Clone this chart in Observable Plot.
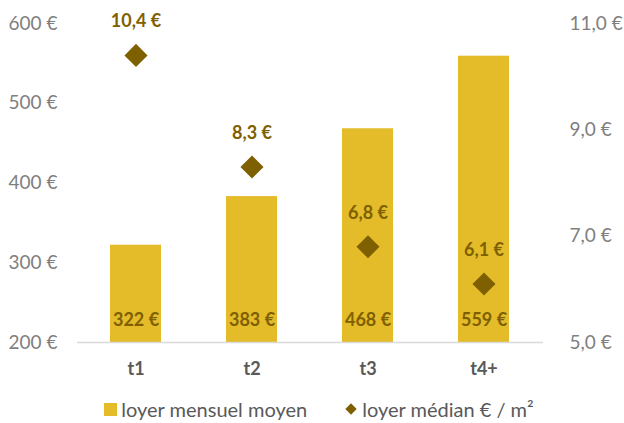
<!DOCTYPE html>
<html><head><meta charset="utf-8">
<script src="https://cdn.jsdelivr.net/npm/d3@7"></script>
<script src="https://cdn.jsdelivr.net/npm/@observablehq/plot@0.6"></script>
<style>
body{margin:0;background:#fff;font-family:Lato,"Open Sans",sans-serif;}
#legend{display:flex;justify-content:center;align-items:center;font-size:20px;color:#595959;height:30px;margin-top:2px;padding-left:14px;}
.item{display:flex;align-items:center;}
.sq{width:13px;height:13px;background:#E4BC2A;margin-right:4px;}
.dm{width:8px;height:8px;background:#7F6000;transform:rotate(45deg);margin-right:7px;margin-left:40px;}
</style></head><body>
<div id="chart"></div>
<div id="legend"><span class="item"><span class="sq"></span>loyer mensuel moyen</span><span class="item"><span class="dm"></span>loyer médian € / m²</span></div>
<script>
const categories = ["t1","t2","t3","t4+"];
const loyerMensuel = [322,383,468,559];
const loyerMedian = [10.4,8.3,6.8,6.1];
const leftTicks = [200,300,400,500,600];
const rightTicks = [5,7,9,11];

const barColor = "#E4BC2A", dkColor = "#7F6000";
const lMin = leftTicks[0], lMax = leftTicks[leftTicks.length-1];
const rMin = rightTicks[0], rMax = rightTicks[rightTicks.length-1];
const toLeft = v => lMin + (v - rMin) * (lMax - lMin) / (rMax - rMin);

const data = categories.map((c,i)=>({cat:c, bar:loyerMensuel[i], med:loyerMedian[i]}));
const fmt1 = v => v.toFixed(1).replace(".", ",") + " €";

const chart = Plot.plot({
  width: 624, height: 392,
  marginLeft: 77, marginRight: 81, marginTop: 23, marginBottom: 50,
  style: {fontFamily: "Lato, 'Open Sans', sans-serif", fontSize: "18px", color: "#7f7f7f", background: "#fff"},
  x: {domain: categories, paddingInner: 0.56, paddingOuter: 0.28, label: null},
  y: {domain: [lMin, lMax], label: null},
  marks: [
    Plot.barY(data, {x: "cat", y1: lMin, y2: "bar", fill: barColor}),
    Plot.ruleY([lMin], {stroke: "#d9d9d9", strokeWidth: 1.5}),
    Plot.axisY(leftTicks, {anchor: "left", tickSize: 0, tickPadding: 20, tickFormat: d => d + " €", fill: "#7f7f7f", fontSize: 19, label: null}),
    Plot.axisY(rightTicks.map(toLeft), {anchor: "right", tickSize: 0, tickPadding: 26, textAnchor: "start", tickFormat: (d,i) => fmt1(rightTicks[i]), fill: "#7f7f7f", fontSize: 19, label: null}),
    Plot.axisX({tickSize: 0, tickPadding: 20, fontWeight: "bold", fill: "#595959", fontSize: 18, label: null}),
    Plot.dot(data, {x: "cat", y: d => toLeft(d.med), symbol: "diamond2", r: 10.4, fill: dkColor}),
    Plot.text(data, {x: "cat", y: d => toLeft(d.med), dy: -34, text: d => fmt1(d.med), fill: dkColor, fontWeight: "bold", fontSize: 18}),
    Plot.text(data, {x: "cat", y: () => lMin, dy: -22, text: d => d.bar + " €", fill: dkColor, fontWeight: "bold", fontSize: 18})
  ]
});
document.getElementById("chart").appendChild(chart);
</script></body></html>
